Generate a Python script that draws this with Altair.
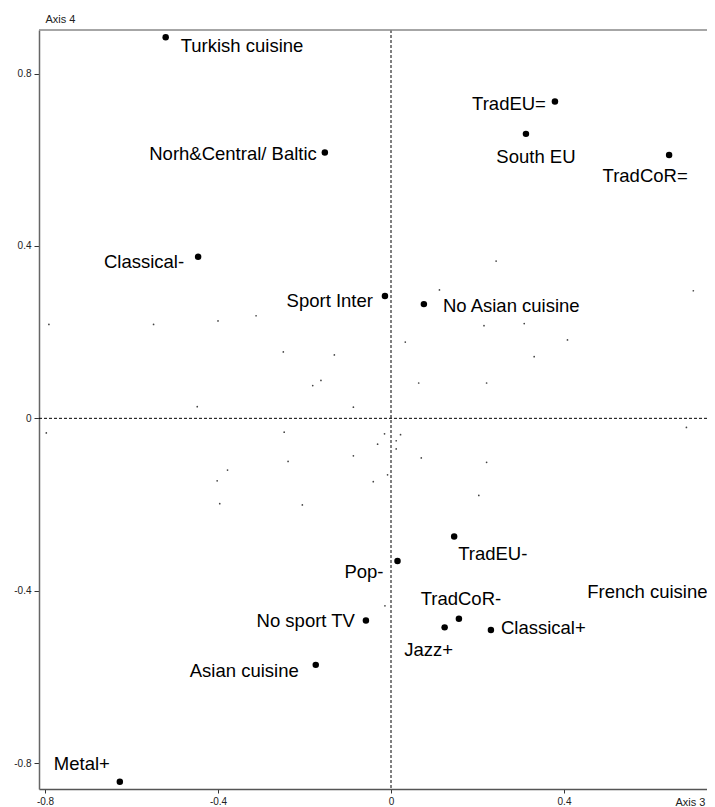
import altair as alt
import pandas as pd

# ---- data ----
labels = [
    "Turkish cuisine", "Norh&Central/ Baltic", "Classical-", "Sport Inter",
    "No Asian cuisine", "TradEU=", "South EU", "TradCoR=", "TradEU-", "Pop-",
    "French cuisine", "TradCoR-", "Jazz+", "Classical+", "No sport TV",
    "Asian cuisine", "Metal+",
]
axis3 = [-0.521, -0.153, -0.446, -0.014, 0.076, 0.379, 0.312, 0.643, 0.146,
         0.015, 0.748, 0.157, 0.124, 0.231, -0.058, -0.174, -0.627]
axis4 = [0.884, 0.617, 0.375, 0.284, 0.265, 0.735, 0.660, 0.611, -0.274,
         -0.331, -0.404, -0.465, -0.485, -0.491, -0.469, -0.572, -0.843]

# small (unlabelled) category points
minor3 = [-0.791, -0.549, -0.400, -0.312, -0.249, -0.131, -0.181, -0.162, -0.448,
          -0.087, -0.797, -0.247, -0.238, -0.378, -0.402, -0.087, -0.396, -0.205,
          0.243, 0.112, 0.699, 0.215, 0.308, 0.408, 0.033, 0.331, 0.064, 0.221,
          0.683, -0.015, 0.022, 0.012, -0.031, 0.012, 0.070, 0.221, -0.041,
          -0.008, 0.203, -0.014]
minor4 = [0.218, 0.218, 0.226, 0.238, 0.154, 0.147, 0.076, 0.088, 0.027,
          0.026, -0.034, -0.032, -0.100, -0.120, -0.145, -0.087, -0.198, -0.201,
          0.365, 0.298, 0.296, 0.215, 0.220, 0.182, 0.177, 0.143, 0.082, 0.082,
          -0.021, -0.036, -0.038, -0.052, -0.060, -0.071, -0.092, -0.102, -0.147,
          -0.131, -0.179, -0.435]

x_ticks = [-0.8, -0.4, 0, 0.4]
y_ticks = [-0.8, -0.4, 0, 0.4, 0.8]

# ---- label placement (style) ----
label_style = {
    "Turkish cuisine": ("left", 15, 9),
    "Norh&Central/ Baltic": ("right", -8, 2),
    "Classical-": ("right", -14, 5),
    "Sport Inter": ("right", -12, 5),
    "No Asian cuisine": ("left", 19, 2),
    "TradEU=": ("right", -9, 2),
    "South EU": ("center", 10, 23),
    "TradCoR=": ("center", -24, 21),
    "TradEU-": ("left", 4, 18),
    "Pop-": ("right", -14, 11),
    "French cuisine": ("right", -7, 0),
    "TradCoR-": ("center", 2, -20),
    "Jazz+": ("center", -16, 23),
    "Classical+": ("left", 10, -2),
    "No sport TV": ("right", -11, 1),
    "Asian cuisine": ("right", -17, 6),
    "Metal+": ("right", -10, -18),
}

W, H = 668, 759
X_DOMAIN = [-0.8139, 0.7306]
Y_DOMAIN = [-0.860, 0.901]
FONT = "Liberation Sans"

df = pd.DataFrame({"label": labels, "ax3": axis3, "ax4": axis4})
mdf = pd.DataFrame({"ax3": minor3, "ax4": minor4})
zdf = pd.DataFrame({"ax3": [0.0], "ax4": [0.0]})

xs = alt.Scale(domain=X_DOMAIN, nice=False, zero=False)
ys = alt.Scale(domain=Y_DOMAIN, nice=False, zero=False)

x_axis = alt.Axis(
    values=x_ticks, labelExpr="'' + datum.value", grid=False,
    title="Axis 3", titleX=W - 2, titleY=16, titleAlign="right",
    titleBaseline="alphabetic", titleAngle=0, titleFont=FONT, titleFontSize=11,
    titleFontWeight="normal", titleColor="#222",
    tickSize=4, tickColor="#333", labelPadding=3, labelFont=FONT,
    labelFontSize=10, labelColor="#222", domainColor="#555", domainWidth=1.5,
)
y_axis = alt.Axis(
    values=y_ticks, labelExpr="'' + datum.value", grid=False,
    title="Axis 4", titleX=6, titleY=-11, titleAlign="left",
    titleBaseline="middle", titleAngle=0, titleFont=FONT, titleFontSize=11,
    titleFontWeight="normal", titleColor="#222",
    tickSize=5, tickColor="#333", labelPadding=3, labelFont=FONT,
    labelFontSize=10, labelColor="#222", domainColor="#666", domainWidth=1.5,
)

X = alt.X("ax3:Q", scale=xs, axis=x_axis)
Y = alt.Y("ax4:Q", scale=ys, axis=y_axis)

top_line = alt.Chart(pd.DataFrame({"v": [0]})).mark_rule(
    color="#888", strokeWidth=1.5
).encode(y=alt.value(0), x=alt.value(0), x2=alt.value(W))

vzero = alt.Chart(zdf).mark_rule(color="black", strokeWidth=1, strokeDash=[3, 2]).encode(x=X)
hzero = alt.Chart(zdf).mark_rule(color="black", strokeWidth=1, strokeDash=[3, 2]).encode(y=Y)

minor = alt.Chart(mdf).mark_circle(size=3, color="#444", opacity=1).encode(x=X, y=Y)
pts = alt.Chart(df).mark_circle(size=42, color="black", opacity=1).encode(x=X, y=Y)

layers = [vzero, hzero, top_line, minor, pts]
for name, (al, dx, dy) in label_style.items():
    layers.append(
        alt.Chart(df).transform_filter(alt.datum.label == name).mark_text(
            align=al, dx=dx, dy=dy, baseline="middle", font=FONT,
            fontSize=18.5, color="black"
        ).encode(x=X, y=Y, text="label:N")
    )

chart = alt.layer(*layers).properties(
    width=W, height=H,
    autosize=alt.AutoSizeParams(type="none"),
    padding={"left": 31, "top": 22, "right": 0, "bottom": 18},
    background="white",
).configure_view(stroke=None)

chart.save("out.html", embed_options={"renderer": "svg", "actions": False})
